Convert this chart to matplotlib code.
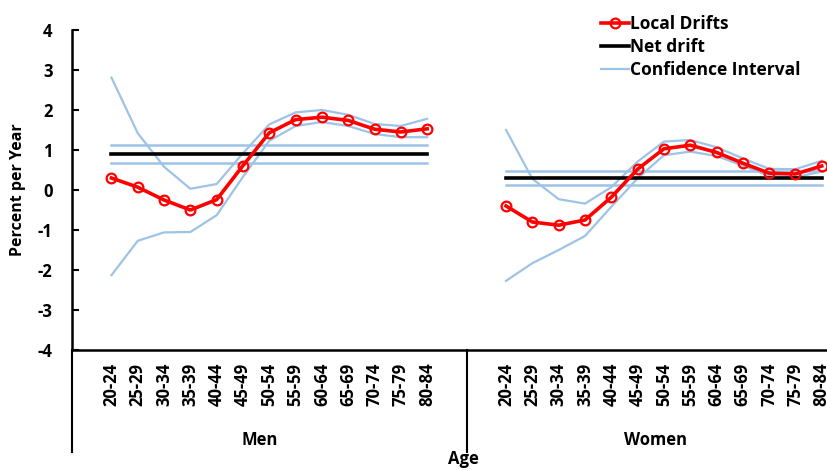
import matplotlib
matplotlib.use("Agg")
import matplotlib.pyplot as plt
import matplotlib.transforms as mtransforms

plt.rcParams['font.family'] = ['Open Sans', 'DejaVu Sans']
plt.rcParams['font.weight'] = 'bold'
plt.rcParams['axes.unicode_minus'] = False

# data
age_groups = ['20-24', '25-29', '30-34', '35-39', '40-44', '45-49', '50-54',
              '55-59', '60-64', '65-69', '70-74', '75-79', '80-84']
sexes = ['Men', 'Women']

men_local = [0.30, 0.07, -0.25, -0.50, -0.24, 0.61, 1.43, 1.76, 1.82, 1.74, 1.52, 1.45, 1.53]
men_upper = [2.81, 1.42, 0.58, 0.03, 0.15, 0.92, 1.64, 1.94, 2.00, 1.88, 1.65, 1.60, 1.78]
men_lower = [-2.13, -1.27, -1.06, -1.05, -0.63, 0.33, 1.23, 1.60, 1.70, 1.60, 1.40, 1.32, 1.32]
men_net, men_net_hi, men_net_lo = 0.90, 1.12, 0.68

women_local = [-0.40, -0.80, -0.88, -0.75, -0.18, 0.52, 1.03, 1.12, 0.94, 0.67, 0.42, 0.40, 0.60]
women_upper = [1.50, 0.28, -0.23, -0.34, 0.07, 0.71, 1.21, 1.25, 1.07, 0.79, 0.53, 0.52, 0.73]
women_lower = [-2.27, -1.83, -1.50, -1.15, -0.42, 0.29, 0.87, 0.96, 0.85, 0.61, 0.35, 0.32, 0.46]
women_net, women_net_hi, women_net_lo = 0.29, 0.48, 0.13

red = '#ff0000'
blue = '#9dc3e6'

fig = plt.figure(figsize=(8.27, 4.70), dpi=100)
ax = fig.add_axes([72 / 827, 120 / 470, 755 / 827, 320 / 470])

groups = [
    (men_local, men_upper, men_lower, men_net, men_net_hi, men_net_lo),
    (women_local, women_upper, women_lower, women_net, women_net_hi, women_net_lo),
]
n = len(age_groups)
all_x, all_lab = [], []
handles = {}
for g, (loc, up, lo, net, nhi, nlo) in enumerate(groups):
    x = [g * 15 + 1.5 + i for i in range(n)]
    all_x += x
    all_lab += age_groups
    ci, = ax.plot(x, up, color=blue, lw=1.6, zorder=2)
    ax.plot(x, lo, color=blue, lw=1.6, zorder=2)
    ax.plot([x[0], x[-1]], [nhi, nhi], color=blue, lw=1.8, zorder=2)
    ax.plot([x[0], x[-1]], [nlo, nlo], color=blue, lw=1.8, zorder=2)
    nd, = ax.plot([x[0], x[-1]], [net, net], color='black', lw=2.6, zorder=3)
    ld, = ax.plot(x, loc, color=red, lw=2.6, marker='o', ms=7, mfc='none', mec=red,
                  mew=1.6, zorder=4)
    handles = {'Local Drifts': ld, 'Net drift': nd, 'Confidence Interval': ci}

ax.set_xlim(0, 28.7)
ax.set_ylim(-4, 4)
ax.set_yticks(range(-4, 5))
ax.tick_params(axis='y', direction='in', length=5, width=1.5, labelsize=12, pad=14)
ax.set_xticks(all_x)
ax.set_xticklabels(all_lab, rotation=90, fontsize=12, fontweight='bold')
ax.tick_params(axis='x', length=0, pad=9)
for s in ['top', 'right']:
    ax.spines[s].set_visible(False)
ax.spines['left'].set_linewidth(1.8)
ax.spines['bottom'].set_linewidth(1.8)
for lab in ax.get_yticklabels():
    lab.set_fontweight('bold')

# group separators below the axis
trans = mtransforms.blended_transform_factory(ax.transData, ax.transAxes)
for xv in [0, 15]:
    ax.plot([xv, xv], [0, -0.32], color='black', lw=1.5, transform=trans, clip_on=False)

fig.text(260 / 827, 1 - 440 / 470, sexes[0], ha='center', va='center', fontsize=12, fontweight='bold')
fig.text(655 / 827, 1 - 440 / 470, sexes[1], ha='center', va='center', fontsize=12, fontweight='bold')
fig.text(463 / 827, 1 - 459 / 470, 'Age', ha='center', va='center', fontsize=12, fontweight='bold')
fig.text(18 / 827, 1 - 190 / 470, 'Percent per Year', rotation=90, ha='center', va='center',
         fontsize=11.5, fontweight='bold')

ax.legend(list(handles.values()), list(handles.keys()),
          loc='upper left', bbox_to_anchor=(594 / 827, 1 - 8 / 470), bbox_transform=fig.transFigure,
          frameon=False, handlelength=1.6, handletextpad=0.05,
          labelspacing=0.3, borderaxespad=0.0, prop={'weight': 'bold', 'size': 12.5})

fig.savefig('out.png', dpi=100)
